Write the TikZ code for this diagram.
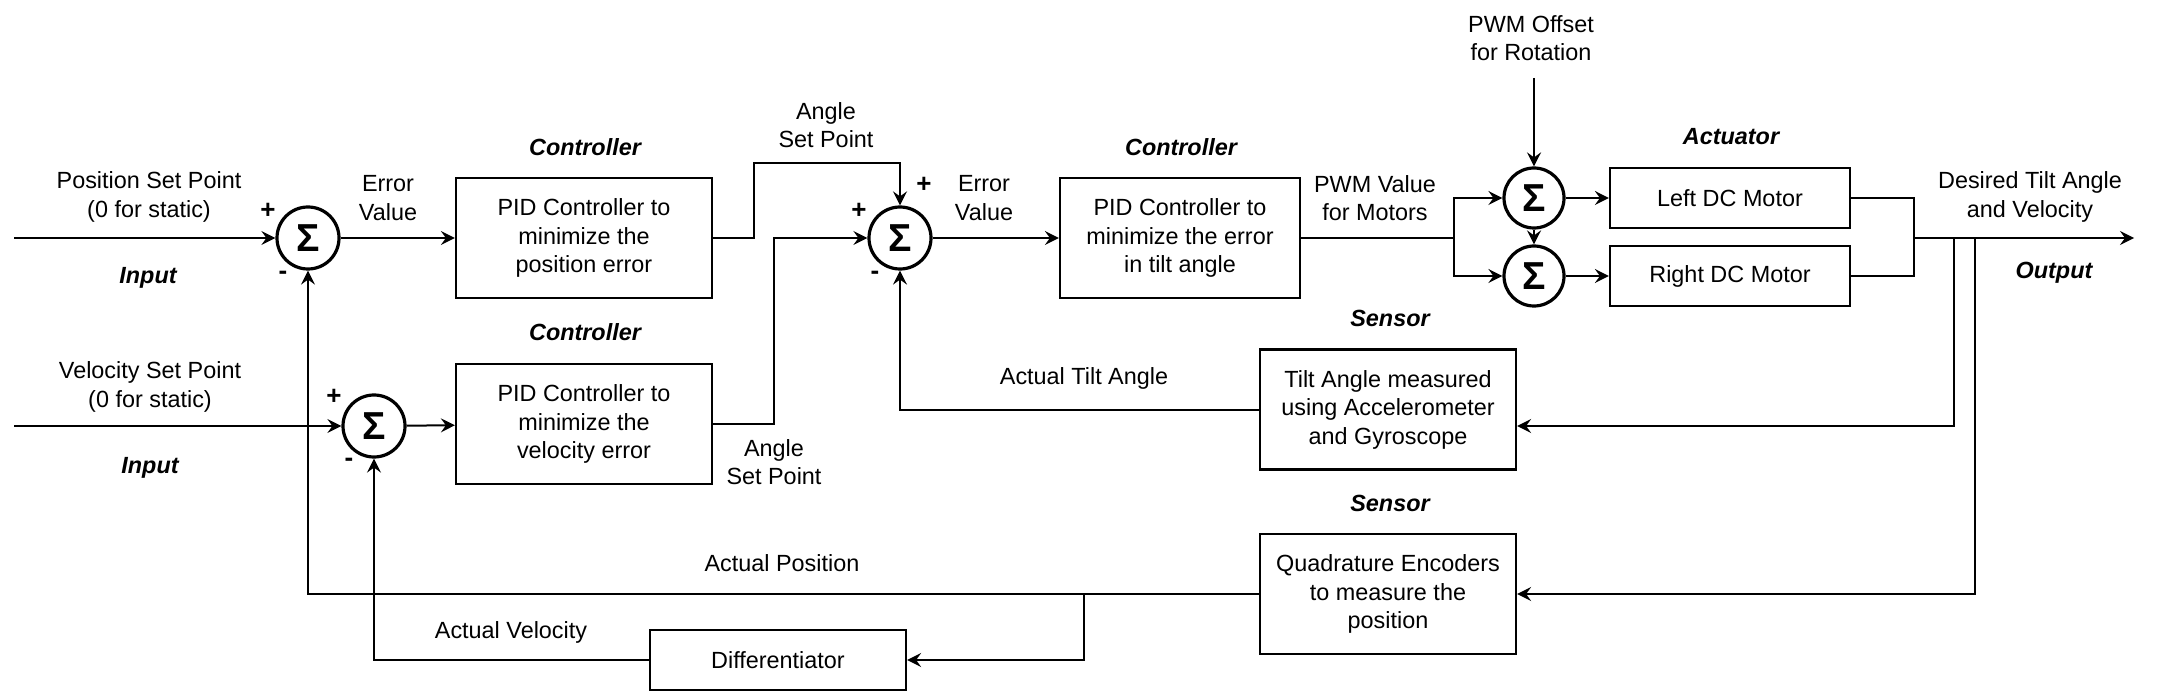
\documentclass[tikz,border=0pt]{standalone}
\usepackage{fontspec}
\setmainfont{Liberation Sans}
\usetikzlibrary{arrows.meta,calc}
\begin{document}
\begin{tikzpicture}[x=0.5pt,y=-0.5pt,
  lbl/.style={align=center,font=\fontsize{11.7}{14.25}\selectfont,inner sep=0pt},
  tag/.style={font=\fontsize{11.7}{14.25}\selectfont\bfseries\itshape,inner sep=0pt},
  sgn/.style={font=\fontsize{13}{14}\selectfont\bfseries,inner sep=0pt},
  blk/.style={draw,line width=1.1pt,align=center,font=\fontsize{11.7}{14.25}\selectfont,minimum width=128pt,minimum height=60pt,inner sep=0pt},
  sum/.style={draw,circle,line width=1.6pt,minimum size=31pt,inner sep=0pt,font=\fontsize{19.5}{19.5}\selectfont\bfseries},
  wire/.style={line width=1pt},
  arr/.style={wire,-{Stealth[length=7pt,width=7pt,inset=2.5pt]}},
]
\useasboundingbox (0,0) rectangle (2175,695);

% summing junctions
\node[sum] (s1) at (308,238) {\char"03A3};
\node[sum] (s2) at (900,238) {\char"03A3};
\node[sum,minimum size=30pt] (s3) at (1534,198) {\char"03A3};
\node[sum,minimum size=30pt] (s4) at (1534,276) {\char"03A3};
\node[sum] (s5) at (374,426) {\char"03A3};

% blocks
\node[blk] (b1) at (584,238) {PID Controller to\\minimize the\\position error};
\node[blk] (b2) at (584,424) {PID Controller to\\minimize the\\velocity error};
\node[blk,minimum width=120pt] (b3) at (1180,238) {PID Controller to\\minimize the error\\in tilt angle};
\node[blk,minimum width=120pt,minimum height=30pt] (bl) at (1730,198) {Left DC Motor};
\node[blk,minimum width=120pt,minimum height=30pt] (br) at (1730,276) {Right DC Motor};
\node[blk] (bt) at (1388,409.5) {Tilt Angle measured\\using Accelerometer\\and Gyroscope};
\node[blk] (bq) at (1388,594) {Quadrature Encoders\\to measure the\\position};
\node[blk,minimum height=30pt] (bd) at (778,660) {Differentiator};

% coordinates
\coordinate (in1) at (14,238);
\coordinate (in2) at (14,426);
\coordinate (cA) at (754,163);
\coordinate (cB) at (774,238);
\coordinate (cC) at (1454,238);
\coordinate (cD) at (1534,78);
\coordinate (cE) at (1914,238);
\coordinate (out) at (2134,238);
\coordinate (cF) at (1954,238);
\coordinate (cF2) at (1954,426);
\coordinate (cG) at (1975,238);
\coordinate (cH) at (1084,594);

% connectors
\draw[arr] (in1) -- (s1);
\draw[arr] (s1) -- (b1);
\draw[arr] (b1.east) -| (cA) -| (s2.north);
\draw[arr] (in2) -- (s5);
\draw[arr] (s5) -- (b2);
\draw[arr] (b2.east) -| (cB) -- (s2.west);
\draw[arr] (s2) -- (b3);
\draw[wire] (b3.east) -- (cC);
\draw[arr] (cC) |- (s3.west);
\draw[arr] (cC) |- (s4.west);
\draw[arr] (cD) -- (s3.north);
\draw[arr] (s3.south) -- (s4.north);
\draw[arr] (s3) -- (bl);
\draw[arr] (s4) -- (br);
\draw[wire] (bl.east) -| (cE);
\draw[wire] (br.east) -| (cE);
\draw[arr] (cE) -- (out);
\draw[arr] (cF) -- (cF2) -- (cF2 -| bt.east);
\draw[arr] (cG) |- (bq.east);
\draw[arr] (bt.west) -| (s2.south);
\draw[arr] (bq.west) -| (s1.south);
\draw[arr] (cH) |- (bd.east);
\draw[arr] (bd.west) -| (s5.south);

% labels
\node[lbl] (l1) at (149,197) {Position Set Point\\(0 for static)};
\node[sgn] (p1) at (268,211) {+};
\node[sgn] (m1) at (283,275) {-};
\node[tag] (t1) at (148,278) {Input};
\node[lbl] (l2) at (388,198) {Error\\Value};
\node[tag] (t2) at (585,147) {Controller};
\node[tag] (t3) at (585,332) {Controller};
\node[lbl] (l3) at (826,125) {Angle\\Set Point};
\node[sgn] (p2) at (924,185) {+};
\node[sgn] (p3) at (859,211) {+};
\node[sgn] (m2) at (875,275) {-};
\node[lbl] (l4) at (984,198) {Error\\Value};
\node[tag] (t4) at (1181,147) {Controller};
\node[lbl] (l5) at (1375,198) {PWM Value\\for Motors};
\node[lbl] (l6) at (1531,38) {PWM Offset\\for Rotation};
\node[tag] (t5) at (1731,137) {Actuator};
\node[lbl] (l7) at (2030,197) {Desired Tilt Angle\\and Velocity};
\node[tag] (t6) at (2054,273) {Output};
\node[tag] (t7) at (1390,318) {Sensor};
\node[tag] (t8) at (1390,503) {Sensor};
\node[lbl] (l8) at (150,387) {Velocity Set Point\\(0 for static)};
\node[sgn] (p4) at (334,397) {+};
\node[sgn] (m3) at (349,462) {-};
\node[tag] (t9) at (150,468) {Input};
\node[lbl] (l9) at (774,462) {Angle\\Set Point};
\node[lbl] (l10) at (1084,378) {Actual Tilt Angle};
\node[lbl] (l11) at (782,563) {Actual Position};
\node[lbl] (l12) at (511,632) {Actual Velocity};
\end{tikzpicture}
\end{document}
